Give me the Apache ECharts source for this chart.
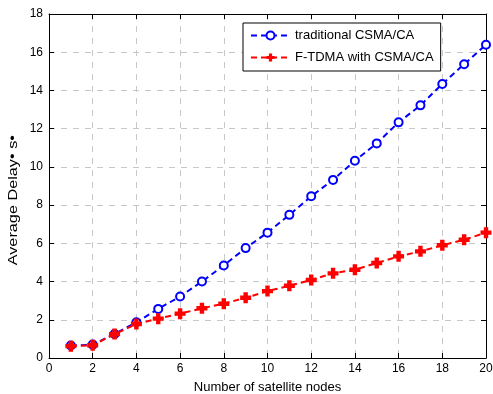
<!DOCTYPE html>
<html><head><meta charset="utf-8">
<script src="https://cdn.jsdelivr.net/npm/echarts@6/dist/echarts.min.js"></script>
<style>html,body{margin:0;padding:0;background:#fff}#c{width:493px;height:394px}</style>
</head><body><div id="c"></div>
<script>
const nodes = [1,2,3,4,5,6,7,8,9,10,11,12,13,14,15,16,17,18,19,20];
const traditional = [0.65,0.70,1.26,1.87,2.57,3.22,4.00,4.84,5.75,6.56,7.49,8.46,9.32,10.32,11.23,12.33,13.22,14.34,15.37,16.39];
const ftdma = [0.62,0.67,1.25,1.78,2.06,2.32,2.60,2.84,3.15,3.50,3.78,4.08,4.43,4.62,4.97,5.32,5.58,5.90,6.19,6.56];
const xTicks = [0,2,4,6,8,10,12,14,16,18,20];
const yTicks = [0,2,4,6,8,10,12,14,16,18];
const yTitle = 'Average Delay• s•';
const xTitle = 'Number of satellite nodes';

const FONT = 'Liberation Sans';
const plusPath = 'path://M3,0 L7,0 L7,3 L10,3 L10,7 L7,7 L7,10 L3,10 L3,7 L0,7 L0,3 L3,3 Z';
const chart = echarts.init(document.getElementById('c'), null, {renderer:'canvas'});
const gridLine = {show:true, lineStyle:{color:'#c8c8c8', type:[6,6], width:1}};
const axisBase = {
  axisLine:{show:true, onZero:false, lineStyle:{color:'#000', width:1}},
  axisTick:{show:true, inside:true, length:5, lineStyle:{color:'#000'}},
  axisLabel:{color:'#000', fontFamily:FONT, fontSize:12}
};
chart.setOption({
  animation:false,
  textStyle:{fontFamily:FONT},
  grid:{left:49, right:7, top:14, bottom:36, containLabel:false, outerBoundsMode:'none'},
  legend:{
    orient:'vertical', left:243, top:23,
    backgroundColor:'#fff', borderColor:'#000', borderWidth:1,
    padding:[6,7,7,7], itemGap:9, itemWidth:39, itemHeight:10,
    textStyle:{color:'#000', fontSize:13, fontFamily:FONT},
    data:['traditional CSMA/CA','F-TDMA with CSMA/CA']
  },
  graphic:[{
    type:'text', left:7, top:135,
    rotation:Math.PI/2, scaleX:1.25, originX:0, originY:0,
    style:{text:yTitle, font:'13px "Liberation Sans"', fill:'#000'}
  }],
  xAxis:[
    Object.assign({}, axisBase, {type:'value', min:0, max:20, interval:2,
      name:xTitle, nameLocation:'middle', nameGap:23,
      nameTextStyle:{color:'#000', fontSize:13, fontFamily:FONT},
      axisLabel:{color:'#000', fontFamily:FONT, fontSize:12, margin:5, formatter:v=>xTicks.includes(v)?String(v):''},
      splitLine:gridLine}),
    Object.assign({}, axisBase, {type:'value', min:0, max:20, interval:2, position:'top',
      axisLabel:{show:false}, splitLine:{show:false}})
  ],
  yAxis:[
    Object.assign({}, axisBase, {type:'value', min:0, max:18, interval:2,
      axisLabel:{color:'#000', fontFamily:FONT, fontSize:12, margin:6, formatter:v=>yTicks.includes(v)?String(v):''},
      splitLine:gridLine}),
    Object.assign({}, axisBase, {type:'value', min:0, max:18, interval:2, position:'right',
      axisLabel:{show:false}, splitLine:{show:false}})
  ],
  series:[
    {name:'traditional CSMA/CA', type:'line', xAxisIndex:0, yAxisIndex:0,
      data:nodes.map((x,i)=>[x,traditional[i]]),
      symbol:'circle', symbolSize:8, showSymbol:true,
      lineStyle:{color:'#0000ff', width:2, type:[6,4]},
      itemStyle:{color:'#fff', borderColor:'#0000ff', borderWidth:2},
      color:'#0000ff', z:2},
    {name:'F-TDMA with CSMA/CA', type:'line', xAxisIndex:0, yAxisIndex:0,
      data:nodes.map((x,i)=>[x,ftdma[i]]),
      symbol:plusPath, symbolSize:11, showSymbol:true,
      lineStyle:{color:'#ff0000', width:2, type:[6,4]},
      itemStyle:{color:'#ff0000', borderWidth:0},
      color:'#ff0000', z:3}
  ]
});
</script></body></html>
